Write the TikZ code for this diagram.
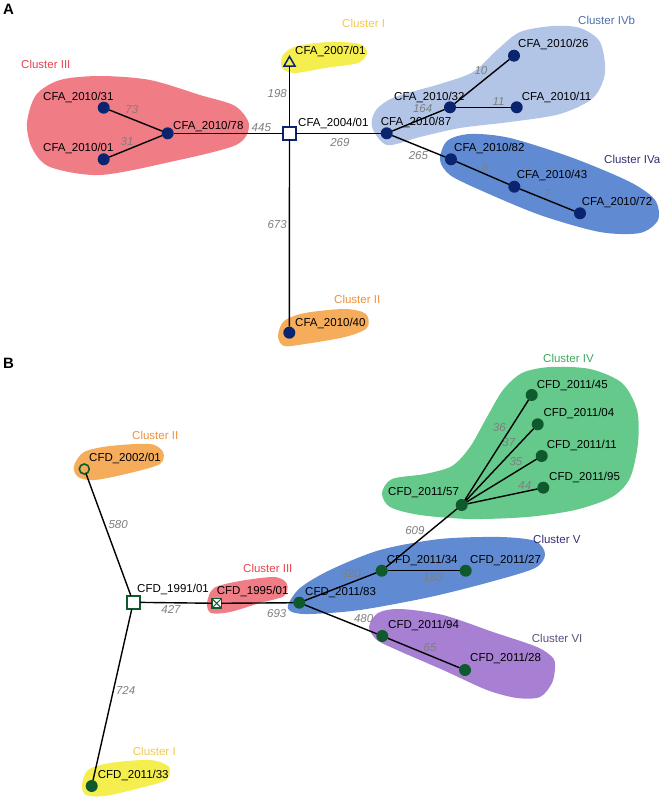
\documentclass[tikz,border=0pt]{standalone}
\usepackage{fontspec}
\setmainfont{Liberation Sans}
\usepackage{tikz}
\usetikzlibrary{shapes.geometric}

\definecolor{navyA}{HTML}{0B2470}
\definecolor{greenB}{HTML}{0F5A2D}
\definecolor{wgrey}{HTML}{7F7F7F}
% cluster fills
\definecolor{fYel}{HTML}{F4EE4E}
\definecolor{fOra}{HTML}{F5AD5B}
\definecolor{fRed}{HTML}{F07C86}
\definecolor{fLbl}{HTML}{B3C5E6}
\definecolor{fBlu}{HTML}{608BD3}
\definecolor{fGrn}{HTML}{65C98B}
\definecolor{fPur}{HTML}{A780D3}
% cluster label colours
\definecolor{tYel}{HTML}{F2C94C}
\definecolor{tOra}{HTML}{F0903A}
\definecolor{tRed}{HTML}{E4434F}
\definecolor{tLbl}{HTML}{4E6DAE}
\definecolor{tBlu}{HTML}{34316F}
\definecolor{tGrn}{HTML}{3EA85D}
\definecolor{tPur}{HTML}{58527F}

\newcommand{\lblfont}{\fontsize{11.5}{13}\selectfont}

\tikzstyle{vert} = [circle, inner sep=0pt, outer sep=0pt, minimum size=12pt]
\tikzstyle{dotA} = [vert, fill=navyA]
\tikzstyle{dotB} = [vert, fill=greenB]
\tikzstyle{rootA} = [rectangle, draw=navyA, line width=2pt, fill=white, inner sep=0pt, outer sep=0pt, minimum size=12.5pt]
\tikzstyle{rootB} = [rectangle, draw=greenB, line width=2pt, fill=white, inner sep=0pt, outer sep=0pt, minimum size=13.5pt]
\tikzstyle{triA} = [regular polygon, regular polygon sides=3, draw=navyA, line width=1.5pt, inner sep=0pt, outer sep=0pt, minimum size=13pt]
\tikzstyle{ringB} = [circle, draw=greenB, line width=1.6pt, inner sep=0pt, outer sep=0pt, minimum size=10pt]
\tikzstyle{crossB} = [rectangle, draw=greenB, line width=1.3pt, fill=white, inner sep=0pt, outer sep=0pt, minimum size=9.5pt,
  path picture={\draw[greenB, line width=1pt] (path picture bounding box.north west) -- (path picture bounding box.south east)
    (path picture bounding box.north east) -- (path picture bounding box.south west);}]
\tikzstyle{isolabel} = [font=\lblfont, inner sep=0pt, anchor=base west]
\tikzstyle{clus} = [font=\lblfont, inner sep=0pt, anchor=base west]
\tikzstyle{wt} = [font=\lblfont\itshape, text=wgrey]
\tikzstyle{link} = [line width=1.4pt, black]

\begin{document}
\begin{tikzpicture}[x=1pt, y=-1pt]
\useasboundingbox (0,0) rectangle (663,800);

%Panel letters
\node [font=\fontsize{15}{15}\selectfont\bfseries, inner sep=0pt, anchor=base west] (panelA) at (3,15) {A};
\node [font=\fontsize{15}{15}\selectfont\bfseries, inner sep=0pt, anchor=base west] (panelB) at (3,368) {B};

%Clusters A
\fill [fRed] plot [smooth cycle] coordinates {(27,123) (36,95) (60,80) (100,76) (150,80) (200,95) (235,106) (249,125) (236,145) (170,162) (100,175) (50,167) (32,148)};
\fill [fYel] plot [smooth cycle] coordinates {(282,68) (283,55) (297,46) (330,42) (360,44) (367,53) (358,63) (325,68) (295,73)};
\fill [fLbl] plot [smooth cycle] coordinates {(372,127) (387,145) (420,137) (460,128) (510,122) (560,114) (593,98) (605,73) (600,42) (580,28) (553,26) (520,32) (497,50) (473,72) (440,84) (395,97) (376,110)};
\fill [fBlu] plot [smooth cycle] coordinates {(440,160) (447,141) (470,134) (510,138) (573,158) (630,182) (655,200) (658,220) (640,233) (600,232) (540,215) (480,190) (450,175)};
\fill [fOra] plot [smooth cycle] coordinates {(278,336) (284,321) (305,313) (345,309) (366,314) (367,328) (345,337) (305,344) (284,346)};

%Clusters B
\fill [fOra] plot [smooth cycle] coordinates {(74,466) (84,452) (110,446) (150,444) (163,452) (160,464) (130,473) (95,480) (78,477)};
\fill [fRed] plot [smooth cycle] coordinates {(207,603) (214,588) (240,581) (275,577) (287,584) (284,596) (260,603) (230,612) (211,613)};
\fill [fGrn] plot [smooth cycle] coordinates {(382,493) (392,479) (425,474) (452,466) (470,447) (487,417) (503,390) (522,373) (550,367) (590,369) (622,383) (637,410) (638,443) (630,478) (612,497) (575,510) (527,517) (470,519) (420,515) (390,507)};
\fill [fBlu] plot [smooth cycle] coordinates {(288,605) (300,588) (330,570) (380,550) (440,539) (500,537) (535,541) (545,554) (535,568) (490,582) (430,597) (360,610) (310,614) (292,612)};
\fill [fPur] plot [smooth cycle] coordinates {(369,627) (378,613) (400,609) (443,615) (493,632) (537,647) (553,658) (555,668) (552,683) (540,697) (517,698) (487,690) (443,670) (397,650) (377,640)};
\fill [fYel] plot [smooth cycle] coordinates {(82,785) (88,770) (110,763) (150,760) (169,767) (166,780) (140,788) (105,796) (86,795)};

%Cluster names
\node [clus, text=tYel] (cIa) at (342,28) {Cluster I};
\node [clus, text=tRed] (cIIIa) at (21,69) {Cluster III};
\node [clus, text=tLbl] (cIVb) at (578,25) {Cluster IVb};
\node [clus, text=tBlu] (cIVa) at (604,163) {Cluster IVa};
\node [clus, text=tOra] (cIIa) at (334,303) {Cluster II};
\node [clus, text=tOra] (cIIb) at (132,439) {Cluster II};
\node [clus, text=tRed] (cIIIb) at (243,572) {Cluster III};
\node [clus, text=tGrn] (cIVg) at (543,362) {Cluster IV};
\node [clus, text=tBlu] (cV) at (533,543) {Cluster V};
\node [clus, text=tPur] (cVI) at (531.7,642.4) {Cluster VI};
\node [clus, text=tYel] (cIb) at (132.7,755.8) {Cluster I};

%Nodes A
\node [rootA] (r2004) at (289.5,133.3) {};
\node [triA] (a2007) at (289.5,63) {};
\node [dotA] (a78) at (167.7,133.3) {};
\node [dotA] (a31) at (103.7,107.7) {};
\node [dotA] (a01) at (103.7,159.3) {};
\node [dotA] (a87) at (386.7,133.3) {};
\node [dotA] (a32) at (450,107.3) {};
\node [dotA] (a26) at (514,55.7) {};
\node [dotA] (a11) at (516.7,107.3) {};
\node [dotA] (a82) at (451,159.3) {};
\node [dotA] (a43) at (514.3,186.7) {};
\node [dotA] (a72) at (580,213.3) {};
\node [dotA] (a40) at (289.3,332.7) {};

\node [isolabel] (t2004) at (298,126) {CFA\_2004/01};
\node [isolabel] (t2007) at (295,55) {CFA\_2007/01};
\node [isolabel] (t31) at (43,100.7) {CFA\_2010/31};
\node [isolabel] (t01) at (43,151.7) {CFA\_2010/01};
\node [isolabel] (t78) at (173,129) {CFA\_2010/78};
\node [isolabel] (t87) at (380.7,125.7) {CFA\_2010/87};
\node [isolabel] (t32) at (394,100) {CFA\_2010/32};
\node [isolabel] (t26) at (518,48) {CFA\_2010/26};
\node [isolabel] (t11) at (521.7,100.7) {CFA\_2010/11};
\node [isolabel] (t82) at (454,151.7) {CFA\_2010/82};
\node [isolabel] (t43) at (516.7,178) {CFA\_2010/43};
\node [isolabel] (t72) at (581.7,205) {CFA\_2010/72};
\node [isolabel] (t40) at (295,326) {CFA\_2010/40};

%Lines A
\draw [link] (r2004) -- node [wt, pos=0.55, anchor=east, inner sep=2pt] {198} (a2007);
\draw [link] (a78) -- node [wt, pos=0.8, anchor=south, inner sep=1pt] {445} (r2004);
\draw [link] (r2004) -- node [wt, pos=0.52, anchor=north, inner sep=4pt] {269} (a87);
\draw [link] (r2004) -- node [wt, pos=0.456, anchor=east, inner sep=2pt] {673} (a40);
\draw [link] (a78) -- node [wt, pos=0.727, anchor=south west, inner sep=1pt] {73} (a31);
\draw [link] (a78) -- node [wt, pos=0.52, anchor=south east, inner sep=0.5pt] {31} (a01);
\draw [link] (a87) -- node [wt, pos=0.79, anchor=south east, inner sep=0.5pt] {164} (a32);
\draw [link] (a32) -- node [wt, pos=0.62, anchor=south east, inner sep=0.5pt] {10} (a26);
\draw [link] (a32) -- node [wt, pos=0.78, anchor=south, inner sep=1pt] {11} (a11);
\draw [link] (a87) -- node [wt, pos=0.695, anchor=north east, inner sep=0.5pt] {265} (a82);
\draw [link] (a82) -- node [wt, pos=0.47, anchor=south west, inner sep=0pt] {8} (a43);
\draw [link] (a43) -- node [wt, pos=0.42, anchor=south west, inner sep=0.5pt] {7} (a72);

%Nodes B
\node [rootB] (r1991) at (133.3,602.3) {};
\node [ringB] (b2002) at (84.3,469) {};
\node [crossB] (b1995) at (216.7,603.3) {};
\node [dotB] (b83) at (299.3,602.7) {};
\node [dotB] (b34) at (381.7,570.7) {};
\node [dotB] (b27) at (465.7,570.7) {};
\node [dotB] (b57) at (461.7,505) {};
\node [dotB] (b45) at (531.7,395) {};
\node [dotB] (b04) at (537.7,424.3) {};
\node [dotB] (b11) at (541.7,456) {};
\node [dotB] (b95) at (543.3,487.7) {};
\node [dotB] (b94) at (382.3,636) {};
\node [dotB] (b28) at (465,670) {};
\node [dotB] (b33) at (91.7,786) {};

\node [isolabel] (s1991) at (137,592) {CFD\_1991/01};
\node [isolabel] (s2002) at (89,461.7) {CFD\_2002/01};
\node [isolabel] (s1995) at (216.7,594.7) {CFD\_1995/01};
\node [isolabel] (s83) at (305,595) {CFD\_2011/83};
\node [isolabel] (s34) at (386.7,563) {CFD\_2011/34};
\node [isolabel] (s27) at (470,563) {CFD\_2011/27};
\node [isolabel] (s57) at (388,495.7) {CFD\_2011/57};
\node [isolabel] (s45) at (536.7,388) {CFD\_2011/45};
\node [isolabel] (s04) at (543.3,416.7) {CFD\_2011/04};
\node [isolabel] (s11) at (546.7,448.3) {CFD\_2011/11};
\node [isolabel] (s95) at (549,480.7) {CFD\_2011/95};
\node [isolabel] (s94) at (388,628) {CFD\_2011/94};
\node [isolabel] (s28) at (470,661.3) {CFD\_2011/28};
\node [isolabel] (s33) at (97.7,778.3) {CFD\_2011/33};

%Lines B
\draw [link] (r1991) -- node [wt, pos=0.58, anchor=west, inner sep=3pt] {580} (b2002);
\draw [link] (r1991) -- node [wt, pos=0.43, anchor=north, inner sep=2.5pt] {427} (b1995);
\draw [link] (b1995) -- node [wt, pos=0.77, anchor=north, inner sep=5.5pt] {693} (b83);
\draw [link] (b83) -- node [wt, pos=0.8, anchor=south east, inner sep=0.5pt] {320} (b34);
\draw [link] (b34) -- node [wt, pos=0.63, anchor=north, inner sep=2.5pt] {183} (b27);
\draw [link] (b34) -- node [wt, pos=0.55, anchor=south east, inner sep=0pt] {609} (b57);
\draw [link] (b57) -- node [wt, pos=0.67, anchor=south east, inner sep=1pt] {36} (b45);
\draw [link] (b57) -- node [wt, pos=0.74, anchor=south east, inner sep=0pt] {37} (b04);
\draw [link] (b57) -- node [wt, pos=0.82, anchor=south east, inner sep=1pt] {35} (b11);
\draw [link] (b57) -- node [wt, pos=0.82, anchor=south, inner sep=1pt] {44} (b95);
\draw [link] (b83) -- node [wt, pos=0.66, anchor=south west, inner sep=1pt] {480} (b94);
\draw [link] (b94) -- node [wt, pos=0.59, anchor=south, inner sep=3pt] {65} (b28);
\draw [link] (r1991) -- node [wt, pos=0.475, anchor=west, inner sep=2pt] {724} (b33);
\end{tikzpicture}
\end{document}
